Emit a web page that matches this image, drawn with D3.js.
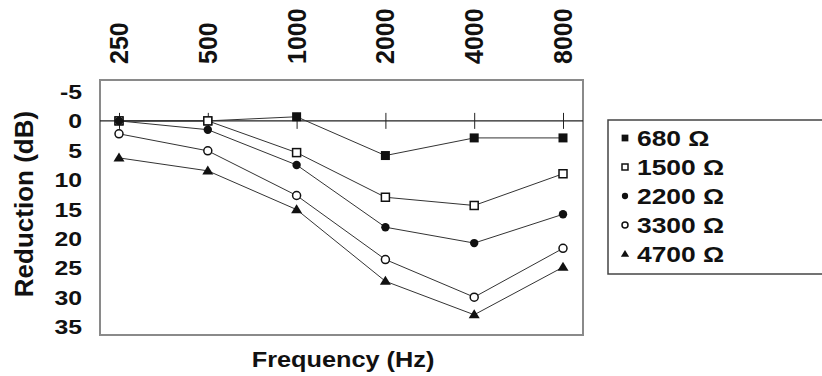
<!DOCTYPE html>
<html>
<head>
<meta charset="utf-8">
<script src="https://cdn.jsdelivr.net/npm/d3@7"></script>
<style>
  body { margin: 0; background: #fff; }
  text { font-family: "Liberation Sans", Arial, sans-serif; font-weight: bold; fill: #111; }
</style>
</head>
<body>
<div id="chart"></div>
<script>
const frequencies = ["250", "500", "1000", "2000", "4000", "8000"];
const yTicks = [-5, 0, 5, 10, 15, 20, 25, 30, 35];
const seriesNames = ["680 Ω", "1500 Ω", "2200 Ω", "3300 Ω", "4700 Ω"];
const r680 = [0, 0, -0.7, 5.9, 2.9, 2.9];
const r1500 = [0, 0, 5.4, 13, 14.4, 9];
const r2200 = [0, 1.5, 7.5, 18.1, 20.8, 15.9];
const r3300 = [2.2, 5.1, 12.7, 23.6, 30, 21.7];
const r4700 = [6.3, 8.5, 15.1, 27.3, 33, 24.9];
const seriesValues = [r680, r1500, r2200, r3300, r4700];
const markerTypes = ["filledSquare", "openSquare", "filledCircle", "openCircle", "triangle"];

const width = 822, height = 376;
const plot = {left: 100, right: 583, top: 80, bottom: 335};
// the source picture has wide lettering on horizontal labels
const stretch = 1.18;

const svg = d3.select('#chart').append('svg')
  .attr('width', width)
  .attr('height', height);

const x = d3.scalePoint()
  .domain(frequencies)
  .range([119, 563]);
const y = d3.scaleLinear()
  .domain([-5, 35])
  .range([91.5, 326.5]);

// plot frame
svg.append('rect')
  .attr('x', plot.left)
  .attr('y', plot.top)
  .attr('width', plot.right - plot.left)
  .attr('height', plot.bottom - plot.top)
  .attr('fill', '#fff')
  .attr('stroke', '#8a8a8a')
  .attr('stroke-width', 2);

// zero line with ticks crossing it
const xAxis = d3.axisBottom(x).tickSize(8).tickFormat('');
const zero = svg.append('g')
  .attr('transform', 'translate(0,' + y(0) + ')')
  .call(xAxis);
zero.select('.domain').remove();
zero.selectAll('.tick line')
  .attr('y1', -8)
  .attr('y2', 8)
  .attr('stroke', '#222');
svg.append('line')
  .attr('x1', plot.left).attr('x2', plot.right)
  .attr('y1', y(0)).attr('y2', y(0))
  .attr('stroke', '#222')
  .attr('stroke-width', 1.2);

// frequency labels on top, rotated
svg.selectAll('.freq')
  .data(frequencies)
  .enter().append('text')
  .attr('class', 'freq')
  .attr('transform', d => 'translate(' + (x(d) + 9) + ',64) rotate(-90)')
  .attr('text-anchor', 'start')
  .style('font-size', '25px')
  .text(d => d);

// y labels
svg.selectAll('.ylab')
  .data(yTicks)
  .enter().append('text')
  .attr('class', 'ylab')
  .attr('transform', d => 'translate(82,' + y(d) + ') scale(' + stretch + ',1)')
  .attr('dy', '0.36em')
  .attr('text-anchor', 'end')
  .style('font-size', '21px')
  .text(d => d);

// axis titles
svg.append('text')
  .attr('transform', 'translate(33,204) rotate(-90)')
  .attr('text-anchor', 'middle')
  .style('font-size', '26px')
  .text('Reduction (dB)');
svg.append('text')
  .attr('transform', 'translate(343,367) scale(1.15,1)')
  .attr('text-anchor', 'middle')
  .style('font-size', '22px')
  .text('Frequency (Hz)');

// lines
const line = d3.line()
  .x((d, i) => x(frequencies[i]))
  .y(d => y(d));
svg.selectAll('.series')
  .data(seriesValues)
  .enter().append('path')
  .attr('class', 'series')
  .attr('d', d => line(d))
  .attr('fill', 'none')
  .attr('stroke', '#333')
  .attr('stroke-width', 1);

function drawMarker(g, type, cx, cy, scale) {
  const s = scale || 1;
  if (type === 'filledSquare') {
    g.append('rect').attr('x', cx - 4.5 * s).attr('y', cy - 4.5 * s)
      .attr('width', 9 * s).attr('height', 9 * s).attr('fill', '#111');
  } else if (type === 'openSquare') {
    g.append('rect').attr('x', cx - 4 * s).attr('y', cy - 4 * s)
      .attr('width', 8 * s).attr('height', 8 * s)
      .attr('fill', '#fff').attr('stroke', '#111').attr('stroke-width', 1.5);
  } else if (type === 'filledCircle') {
    g.append('circle').attr('cx', cx).attr('cy', cy).attr('r', 4.2 * s).attr('fill', '#111');
  } else if (type === 'openCircle') {
    g.append('circle').attr('cx', cx).attr('cy', cy).attr('r', 4 * s)
      .attr('fill', '#fff').attr('stroke', '#111').attr('stroke-width', 1.5);
  } else if (type === 'triangle') {
    const h = 9 * s, w = 11 * s;
    g.append('path')
      .attr('d', 'M' + cx + ',' + (cy - h * 0.6) + 'L' + (cx + w / 2) + ',' + (cy + h * 0.4) +
        'L' + (cx - w / 2) + ',' + (cy + h * 0.4) + 'Z')
      .attr('fill', '#111');
  }
}

// markers in series order, later series on top
const markerGroup = svg.append('g');
seriesValues.forEach((vals, si) => {
  vals.forEach((v, i) => {
    drawMarker(markerGroup, markerTypes[si], x(frequencies[i]), y(v));
  });
});

// legend
const legend = svg.append('g');
legend.append('rect')
  .attr('x', 608).attr('y', 120)
  .attr('width', 230).attr('height', 154)
  .attr('fill', '#fff')
  .attr('stroke', '#444')
  .attr('stroke-width', 1.5);
seriesNames.forEach((name, i) => {
  const ly = 138 + i * 29;
  drawMarker(legend, markerTypes[i], 625, ly, 0.75);
  legend.append('text')
    .attr('transform', 'translate(637,' + ly + ') scale(1.2,1)')
    .attr('dy', '0.36em')
    .style('font-size', '22px')
    .text(name);
});
</script>
</body>
</html>
